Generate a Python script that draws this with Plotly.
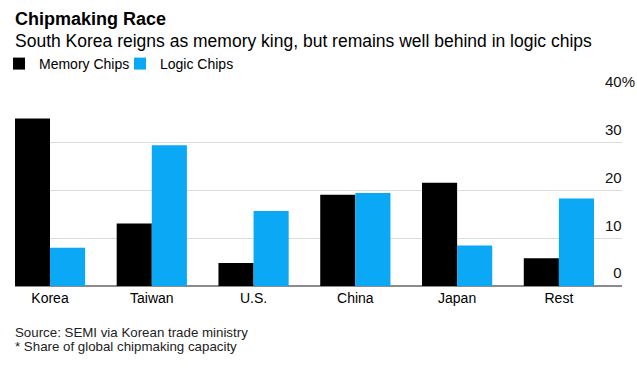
import plotly.graph_objects as go

categories = ["Korea", "Taiwan", "U.S.", "China", "Japan", "Rest"]
memory_chips = [35.1, 13.1, 4.8, 19.1, 21.6, 5.8]
logic_chips = [8.0, 29.5, 15.7, 19.5, 8.5, 18.3]
tick_vals = [0, 10, 20, 30, 40]
tick_numbers = ["0", "10", "20", "30", "40"]
HIDDEN_PCT = "<span style='color:rgba(0,0,0,0)'>%</span>"
tick_text = [t + ("%" if v == 40 else HIDDEN_PCT) for t, v in zip(tick_numbers, tick_vals)]

BLACK = "#000000"
BLUE = "#0AA8F5"
FONT = "Liberation Sans, Arial, sans-serif"

# page body margin is removed by the post script, so screen px == figure px
SW, SH = 637, 369
PLOT_LEFT, PLOT_RIGHT, PLOT_TOP, PLOT_BOTTOM = 15, 622, 95, 286

W, H = SW, SH
L = PLOT_LEFT
R = SW - PLOT_RIGHT
T = PLOT_TOP
B = SH - PLOT_BOTTOM
plot_w = PLOT_RIGHT - PLOT_LEFT
plot_h = PLOT_BOTTOM - PLOT_TOP


def px(x):
    return (x - PLOT_LEFT) / plot_w


def py(y):
    return (PLOT_BOTTOM - y) / plot_h


fig = go.Figure()
fig.add_trace(go.Bar(name="Memory Chips", x=categories, y=memory_chips,
                     marker=dict(color=BLACK, line=dict(width=0))))
fig.add_trace(go.Bar(name="Logic Chips", x=categories, y=logic_chips,
                     marker=dict(color=BLUE, line=dict(width=0))))

fig.update_layout(
    width=W, height=H,
    margin=dict(l=L, r=R, t=T, b=B, pad=0, autoexpand=False),
    paper_bgcolor="white", plot_bgcolor="white",
    font=dict(family=FONT, color="#000"),
    barmode="group", bargap=0.31, bargroupgap=0,
    showlegend=True,
    legend=dict(orientation="h", x=px(-1), y=py(64), xanchor="left", yanchor="middle",
                font=dict(size=14, color="#000"), itemwidth=30, traceorder="normal",
                entrywidth=76, entrywidthmode="pixels",
                bgcolor="rgba(0,0,0,0)", tracegroupgap=0, itemclick=False),
    xaxis=dict(range=[-0.344, 5.62], showgrid=False, showline=False, zeroline=False,
               ticks="", tickfont=dict(size=14, color="#000"), ticklabelstandoff=2,
               fixedrange=True, automargin=False),
    yaxis=dict(range=[0, 40], side="right", tickvals=tick_vals, ticktext=tick_text,
               ticklabelposition="inside", ticklabelshift=-13, ticklabelstandoff=-16,
               ticklabeloverflow="allow",
               tickfont=dict(size=15, color="#111"),
               showgrid=True, gridcolor="#dcdcdc", gridwidth=1,
               zeroline=True, zerolinecolor="#8c8c8c", zerolinewidth=2,
               showline=False, ticks="", fixedrange=True, automargin=False),
)

annotations = [
    dict(text="<b>Chipmaking Race</b>", x=px(13), y=py(19), font=dict(size=18, color="#000")),
    dict(text="South Korea reigns as memory king, but remains well behind in logic chips",
         x=px(13), y=py(41), font=dict(size=17.5, color="#000")),
    dict(text="Source: SEMI via Korean trade ministry", x=px(13), y=py(332),
         font=dict(size=13.3, color="#222")),
    dict(text="* Share of global chipmaking capacity", x=px(13), y=py(346),
         font=dict(size=13.3, color="#222")),
]
for a in annotations:
    fig.add_annotation(xref="paper", yref="paper", xanchor="left", yanchor="middle",
                       showarrow=False, align="left", **a)

fig.write_html(
    "out.html",
    config={"displayModeBar": False},
    post_script="document.body.style.margin='0';document.body.style.overflow='hidden';",
)
